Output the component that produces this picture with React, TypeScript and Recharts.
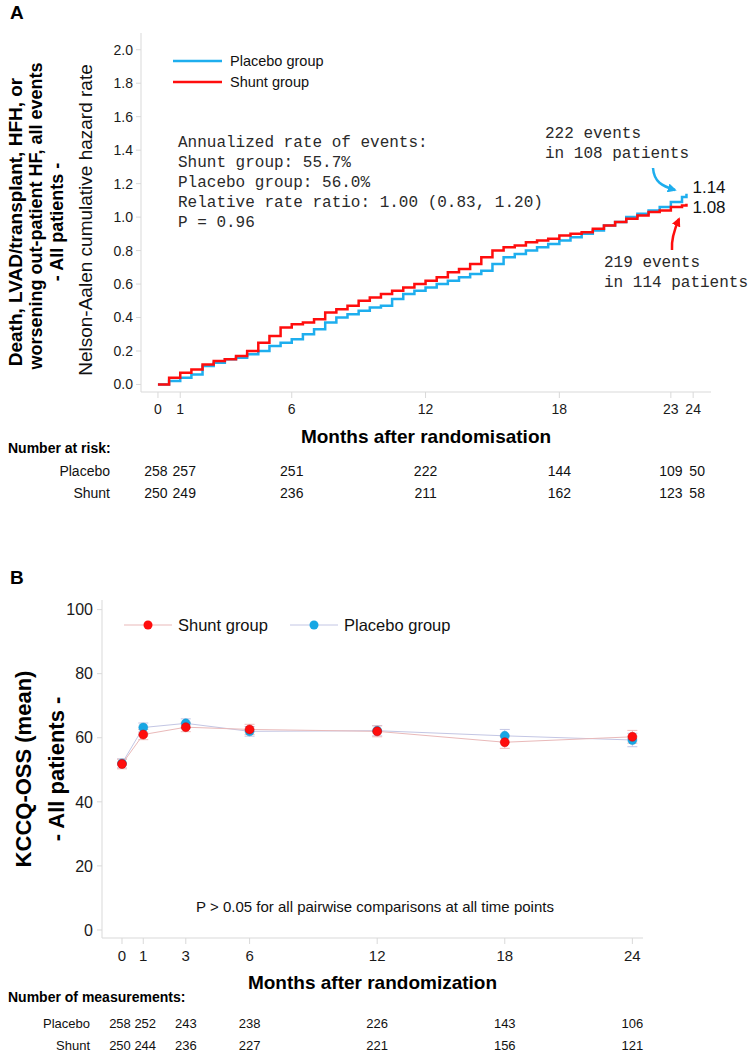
import { LineChart, Line, XAxis, YAxis, Legend, ErrorBar, Label } from 'recharts';

const SANS = '"Liberation Sans", Arial, Helvetica, sans-serif';
const MONO = '"Liberation Mono", "Courier New", monospace';

const BLUE = '#1eaeee';
const RED = '#ff0d0d';

// Panel A: Nelson-Aalen cumulative hazard, every half month
const hazardMonths = [0, 0.5, 1, 1.5, 2, 2.5, 3, 3.5, 4, 4.5, 5, 5.5, 6, 6.5, 7, 7.5, 8, 8.5, 9, 9.5, 10, 10.5, 11, 11.5, 12, 12.5, 13, 13.5, 14, 14.5, 15, 15.5, 16, 16.5, 17, 17.5, 18, 18.5, 19, 19.5, 20, 20.5, 21, 21.5, 22, 22.5, 23, 23.5, 23.7];
const shuntHazard = [0.0, 0.04, 0.07, 0.09, 0.12, 0.14, 0.15, 0.17, 0.2, 0.25, 0.29, 0.34, 0.36, 0.37, 0.39, 0.43, 0.45, 0.47, 0.5, 0.52, 0.54, 0.56, 0.58, 0.6, 0.62, 0.64, 0.67, 0.69, 0.72, 0.76, 0.8, 0.82, 0.83, 0.85, 0.86, 0.87, 0.89, 0.9, 0.91, 0.93, 0.95, 0.97, 0.99, 1.01, 1.03, 1.04, 1.06, 1.07, 1.08];
const placeboHazard = [0.0, 0.02, 0.04, 0.06, 0.11, 0.13, 0.15, 0.16, 0.18, 0.2, 0.23, 0.25, 0.27, 0.3, 0.33, 0.37, 0.4, 0.42, 0.44, 0.46, 0.47, 0.51, 0.54, 0.56, 0.58, 0.6, 0.62, 0.64, 0.66, 0.68, 0.72, 0.76, 0.78, 0.8, 0.82, 0.84, 0.86, 0.88, 0.9, 0.92, 0.95, 0.97, 1.0, 1.02, 1.04, 1.06, 1.09, 1.12, 1.14];
const hazardTicks = [0, 0.2, 0.4, 0.6, 0.8, 1.0, 1.2, 1.4, 1.6, 1.8, 2.0];

const riskMonths = [0, 1, 6, 12, 18, 23, 24];
const placeboAtRisk = [258, 257, 251, 222, 144, 109, 50];
const shuntAtRisk = [250, 249, 236, 211, 162, 123, 58];

// Panel B: KCCQ-OSS means with standard errors
const kccqMonths = [0, 1, 3, 6, 12, 18, 24];
const shuntKccq = [51.8, 61.0, 63.3, 62.6, 62.0, 58.6, 60.3];
const placeboKccq = [52.0, 63.2, 64.5, 62.0, 62.2, 60.6, 59.3];
const shuntKccqSe = [1.5, 1.6, 1.4, 1.6, 1.7, 1.9, 2.0];
const placeboKccqSe = [1.4, 1.4, 1.4, 1.5, 1.6, 2.0, 2.1];
const kccqTicks = [0, 20, 40, 60, 80, 100];
const placeboMeasured = [258, 252, 243, 238, 226, 143, 106];
const shuntMeasured = [250, 244, 236, 227, 221, 156, 121];

const hazardData = hazardMonths.map((m, i) => ({ month: m, shunt: shuntHazard[i], placebo: placeboHazard[i] }));
const kccqData = kccqMonths.map((m, i) => ({
  month: m,
  shunt: shuntKccq[i],
  placebo: placeboKccq[i],
  shuntSe: shuntKccqSe[i],
  placeboSe: placeboKccqSe[i],
}));

// number-at-risk rows are drawn as extra x axes so they sit on the same scale
const riskTick = (months: number[], counts: number[], nudge: Record<number, number>, fontSize: number) =>
  (props: any) => {
    const { x, y, payload } = props;
    const i = months.indexOf(payload.value);
    if (i < 0) return <g />;
    return (
      <text x={x + (nudge[payload.value] || 0)} y={y + 11} textAnchor="middle" dominantBaseline="central"
        fontSize={fontSize} fill="#111" fontFamily={SANS}>
        {counts[i]}
      </text>
    );
  };

const endLabel = (dy: number) => (props: any) => {
  const { x, y, index, value } = props;
  if (index !== hazardMonths.length - 1) return <g />;
  return (
    <text x={x + 6} y={y + dy} dominantBaseline="central" fontSize={17} fill="#111" fontFamily={SANS}>
      {Number(value).toFixed(2)}
    </text>
  );
};

const hazardLegend = () => (
  <svg width={170} height={44} style={{ display: 'block' }}>
    {[{ name: 'Placebo group', color: BLUE }, { name: 'Shunt group', color: RED }].map((d, i) => (
      <g key={d.name}>
        <line x1={0} x2={49} y1={11 + i * 21} y2={11 + i * 21} stroke={d.color} strokeWidth={2.5} />
        <text x={57} y={11 + i * 21} dominantBaseline="central" fontSize={14.5} fill="#111" fontFamily={SANS}>{d.name}</text>
      </g>
    ))}
  </svg>
);

const kccqLegend = () => (
  <svg width={340} height={24} style={{ display: 'block' }}>
    {[
      { name: 'Shunt group', dot: RED, line: '#e9b9b9', x: 0 },
      { name: 'Placebo group', dot: '#17a7e4', line: '#c3c6e4', x: 166 },
    ].map((d) => (
      <g key={d.name}>
        <line x1={d.x} x2={d.x + 48} y1={12} y2={12} stroke={d.line} strokeWidth={1} />
        <circle cx={d.x + 24} cy={12} r={4.5} fill={d.dot} />
        <text x={d.x + 54} y={12} dominantBaseline="central" fontSize={16.5} fill="#111" fontFamily={SANS}>{d.name}</text>
      </g>
    ))}
  </svg>
);

function HazardPanel() {
  const dom: [number, number] = [-0.76, 24.8];
  return (
    <LineChart width={754} height={520} data={hazardData} margin={{ top: 33, right: 43, left: 0, bottom: 16 }}
      style={{ fontFamily: SANS }}>
      <defs>
        <marker id="headBlue" viewBox="0 0 10 10" refX={8} refY={5} markerWidth={9} markerHeight={9}
          markerUnits="userSpaceOnUse" orient="auto">
          <path d="M0,0 L10,5 L0,10 z" fill={BLUE} />
        </marker>
        <marker id="headRed" viewBox="0 0 10 10" refX={8} refY={5} markerWidth={9} markerHeight={9}
          markerUnits="userSpaceOnUse" orient="auto">
          <path d="M0,0 L10,5 L0,10 z" fill={RED} />
        </marker>
      </defs>
      <XAxis dataKey="month" type="number" domain={dom} allowDataOverflow ticks={riskMonths} interval={0}
        height={68} stroke="#d9d9d9" tickSize={6} tickMargin={6} tick={{ fontSize: 14, fill: '#1a1a1a' }}>
        <Label value="Months after randomisation" position="insideBottom" offset={17}
          style={{ fontSize: 19, fontWeight: 'bold', fill: '#000', fontFamily: SANS }} />
      </XAxis>
      <XAxis xAxisId="placeboRisk" dataKey="month" type="number" domain={dom} allowDataOverflow ticks={riskMonths}
        interval={0} height={22} axisLine={false} tickLine={false} tickSize={0} tickMargin={0}
        tick={riskTick(riskMonths, placeboAtRisk, { 0: -2, 1: 4, 23: 0, 24: 4 }, 14)} />
      <XAxis xAxisId="shuntRisk" dataKey="month" type="number" domain={dom} allowDataOverflow ticks={riskMonths}
        interval={0} height={22} axisLine={false} tickLine={false} tickSize={0} tickMargin={0}
        tick={riskTick(riskMonths, shuntAtRisk, { 0: -2, 1: 4, 23: 0, 24: 4 }, 14)} />
      <YAxis type="number" domain={[-0.045, 2.1]} allowDataOverflow ticks={hazardTicks} interval={0} width={141}
        stroke="#d9d9d9" tickSize={5} tickMargin={3} tickFormatter={(v: number) => v.toFixed(1)}
        tick={{ fontSize: 14, fill: '#1a1a1a' }} />
      <Legend layout="vertical" align="center" verticalAlign="middle" content={hazardLegend}
        wrapperStyle={{ left: 173, top: 50, width: 170, height: 44 }} />
      <Line type="stepAfter" dataKey="placebo" stroke={BLUE} strokeWidth={2.5} dot={false}
        isAnimationActive={false} label={endLabel(-6)} />
      <Line type="stepAfter" dataKey="shunt" stroke={RED} strokeWidth={2.5} dot={false}
        isAnimationActive={false} label={endLabel(4)} />

      <text x={10} y={19} fontSize={19} fontWeight="bold" fill="#000">A</text>
      <g fontFamily={SANS} fontWeight="bold" fill="#000" textAnchor="middle">
        <text transform="rotate(-90)" x={-222} y={15} fontSize={19} dominantBaseline="central">Death, LVAD/transplant, HFH, or</text>
        <text transform="rotate(-90)" x={-216} y={36} fontSize={18} dominantBaseline="central">worsening out-patient HF, all events</text>
        <text transform="rotate(-90)" x={-222} y={57} fontSize={18} dominantBaseline="central">- All patients -</text>
      </g>
      <text transform="rotate(-90)" x={-220} y={85} dominantBaseline="central" textAnchor="middle"
        fontSize={19} fill="#111" fontFamily={SANS}>Nelson-Aalen cumulative hazard rate</text>

      <g fontFamily={MONO} fontSize={16} fill="#2a2a2a">
        <text x={178} y={147}>Annualized rate of events:</text>
        <text x={178} y={167}>Shunt group: 55.7%</text>
        <text x={178} y={187}>Placebo group: 56.0%</text>
        <text x={178} y={207}>Relative rate ratio: 1.00 (0.83, 1.20)</text>
        <text x={178} y={227}>P = 0.96</text>
        <text x={545} y={138}>222 events</text>
        <text x={545} y={158}>in 108 patients</text>
        <text x={604} y={267}>219 events</text>
        <text x={604} y={287}>in 114 patients</text>
      </g>
      <path d="M653,168 C654,182 662,186 675,190" fill="none" stroke={BLUE} strokeWidth={2.5} markerEnd="url(#headBlue)" />
      <path d="M672,250 C671,238 675,228 679,219" fill="none" stroke={RED} strokeWidth={2.5} markerEnd="url(#headRed)" />

      <text x={8} y={448} dominantBaseline="central" fontSize={14} fontWeight="bold" fill="#000">Number at risk:</text>
      <text x={110} y={471} dominantBaseline="central" textAnchor="end" fontSize={14} fill="#111">Placebo</text>
      <text x={110} y={493} dominantBaseline="central" textAnchor="end" fontSize={14} fill="#111">Shunt</text>
    </LineChart>
  );
}

function KccqPanel() {
  const dom: [number, number] = [-0.94, 24.5];
  return (
    <LineChart width={754} height={520} data={kccqData} margin={{ top: 60, right: 111, left: 0, bottom: 4 }}
      style={{ fontFamily: SANS }}>
      <XAxis dataKey="month" type="number" domain={dom} allowDataOverflow ticks={kccqMonths} interval={0}
        height={74} stroke="#d9d9d9" tickSize={6} tickMargin={6} tick={{ fontSize: 15, fill: '#1a1a1a' }}>
        <Label value="Months after randomization" position="insideBottom" offset={23}
          style={{ fontSize: 19, fontWeight: 'bold', fill: '#000', fontFamily: SANS }} />
      </XAxis>
      <XAxis xAxisId="placeboN" dataKey="month" type="number" domain={dom} allowDataOverflow ticks={kccqMonths}
        interval={0} height={22} axisLine={false} tickLine={false} tickSize={0} tickMargin={0}
        tick={riskTick(kccqMonths, placeboMeasured, { 0: -2, 1: 2 }, 13)} />
      <XAxis xAxisId="shuntN" dataKey="month" type="number" domain={dom} allowDataOverflow ticks={kccqMonths}
        interval={0} height={22} axisLine={false} tickLine={false} tickSize={0} tickMargin={0}
        tick={riskTick(kccqMonths, shuntMeasured, { 0: -2, 1: 2 }, 13)} />
      <YAxis type="number" domain={[-2.5, 103]} allowDataOverflow ticks={kccqTicks} interval={0} width={102}
        stroke="#d9d9d9" tickSize={5} tickMargin={4} tick={{ fontSize: 16, fill: '#1a1a1a' }} />
      <Legend layout="vertical" align="center" verticalAlign="middle" content={kccqLegend}
        wrapperStyle={{ left: 124, top: 73, width: 340, height: 24 }} />
      <Line type="linear" dataKey="placebo" stroke="#c3c6e4" strokeWidth={1} isAnimationActive={false}
        dot={{ r: 4.5, fill: '#17a7e4', stroke: '#1497cf', strokeWidth: 0.5 }} activeDot={false}>
        <ErrorBar dataKey="placeboSe" width={5} stroke="#c3c6e4" strokeWidth={1} direction="y" />
      </Line>
      <Line type="linear" dataKey="shunt" stroke="#e9b9b9" strokeWidth={1} isAnimationActive={false}
        dot={{ r: 4.5, fill: RED, stroke: '#d00000', strokeWidth: 0.5 }} activeDot={false}>
        <ErrorBar dataKey="shuntSe" width={5} stroke="#eebcbc" strokeWidth={1} direction="y" />
      </Line>

      <text x={10} y={44} fontSize={19} fontWeight="bold" fill="#000">B</text>
      <g fontFamily={SANS} fontWeight="bold" fontSize={22} fill="#000" textAnchor="middle">
        <text transform="rotate(-90)" x={-229} y={23} dominantBaseline="central">KCCQ-OSS (mean)</text>
        <text transform="rotate(-90)" x={-229} y={56} dominantBaseline="central">- All patients -</text>
      </g>
      <text x={375} y={372} textAnchor="middle" fontSize={15} fill="#111">
        P &gt; 0.05 for all pairwise comparisons at all time points
      </text>

      <text x={8} y={457} dominantBaseline="central" fontSize={14} fontWeight="bold" fill="#000">Number of measurements:</text>
      <text x={90} y={483} dominantBaseline="central" textAnchor="end" fontSize={13} fill="#111">Placebo</text>
      <text x={90} y={505} dominantBaseline="central" textAnchor="end" fontSize={13} fill="#111">Shunt</text>
    </LineChart>
  );
}

export default function App() {
  return (
    <div style={{ position: 'absolute', left: 0, top: 0, width: 754, height: 1051, overflow: 'hidden',
      background: '#fff', fontFamily: SANS }}>
      <div style={{ position: 'absolute', left: 0, top: 0 }}>
        <HazardPanel />
      </div>
      <div style={{ position: 'absolute', left: 0, top: 540 }}>
        <KccqPanel />
      </div>
    </div>
  );
}
